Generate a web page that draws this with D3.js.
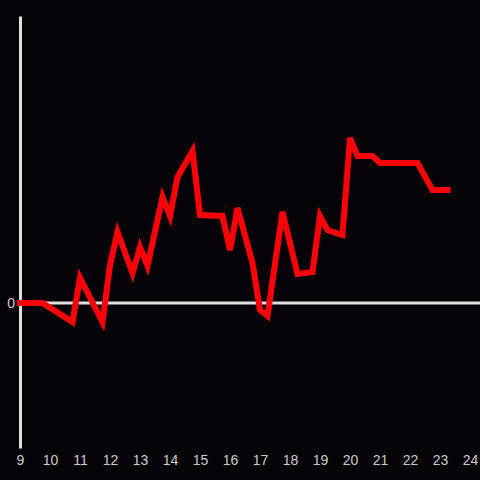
<!DOCTYPE html>
<html>
<head>
<meta charset="utf-8">
<script src="https://cdn.jsdelivr.net/npm/d3@7"></script>
<style>
  html, body { margin: 0; padding: 0; background: #050308; }
  svg { display: block; }
</style>
</head>
<body>
<svg></svg>
<script>
var width = 480;
var height = 480;

// hours of the day
var hours = [9, 9.75, 10.75, 11, 11.75, 12, 12.25, 12.75, 13, 13.25, 13.75, 14, 14.25, 14.75,
             15, 15.75, 16, 16.25, 16.75, 17, 17.25, 17.75, 18.25, 18.75, 19, 19.25, 19.75,
             20, 20.25, 20.75, 21, 22.25, 22.75, 23.25];
var values = [0, 0, -0.19, 0.25, -0.19, 0.38, 0.71, 0.30, 0.56, 0.37, 1.06, 0.87, 1.26, 1.52,
              0.88, 0.87, 0.53, 0.95, 0.40, -0.07, -0.13, 0.91, 0.29, 0.31, 0.87, 0.73, 0.68,
              1.65, 1.47, 1.47, 1.40, 1.40, 1.13, 1.13];
var xTicks = [9, 10, 11, 12, 13, 14, 15, 16, 17, 18, 19, 20, 21, 22, 23, 24];
var yTicks = [0];

var data = hours.map((h, i) => ({hour: h, value: values[i]}));

var svg = d3.select('svg')
    .attr('width', width)
    .attr('height', height);

svg.append('rect')
    .attr('width', width)
    .attr('height', height)
    .attr('fill', '#050308');

var xScale = d3.scaleLinear()
    .domain([9, 24])
    .range([20, 470]);

var yScale = d3.scaleLinear()
    .domain([-1.45, 2.87])
    .range([448, 16]);

// zero line
svg.append('line')
    .attr('x1', xScale(9))
    .attr('x2', width)
    .attr('y1', yScale(0))
    .attr('y2', yScale(0))
    .attr('stroke', '#e0e0e0')
    .attr('stroke-width', 3);

// x axis (labels only)
var xAxis = svg.append('g')
    .attr('transform', 'translate(0,' + yScale.range()[0] + ')')
    .call(d3.axisBottom(xScale).tickValues(xTicks).tickFormat(d3.format('d')).tickSize(0).tickPadding(7));
xAxis.select('.domain').remove();

// y axis
var yAxis = svg.append('g')
    .attr('transform', 'translate(' + xScale(9) + ',0)')
    .call(d3.axisLeft(yScale).tickValues(yTicks).tickFormat(d3.format('d')).tickSize(0).tickPadding(5).tickSizeOuter(0));
yAxis.select('.domain')
    .attr('stroke', '#e0e0e0')
    .attr('stroke-width', 3);

svg.selectAll('.tick text')
    .attr('fill', '#cccccc')
    .style('font-family', 'Liberation Sans, Arial, sans-serif')
    .style('font-size', '14px');

var line = d3.line()
    .x(d => xScale(d.hour))
    .y(d => yScale(d.value));

svg.append('path')
    .datum(data)
    .attr('d', line)
    .attr('fill', 'none')
    .attr('stroke', '#ff0008')
    .attr('stroke-width', 6)
    .attr('stroke-linecap', 'square')
    .attr('stroke-linejoin', 'miter');
</script>
</body>
</html>
